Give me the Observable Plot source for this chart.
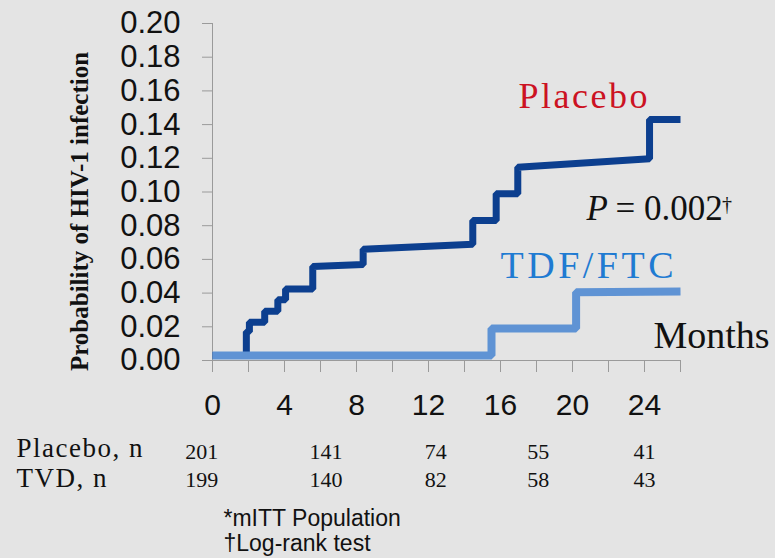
<!DOCTYPE html>
<html>
<head>
<meta charset="utf-8">
<script src="https://cdn.jsdelivr.net/npm/d3@7"></script>
<script src="https://cdn.jsdelivr.net/npm/@observablehq/plot@0.6"></script>
<style>
  html, body { margin: 0; padding: 0; background: #e4e4e4; }
  #chart { width: 775px; height: 558px; }
</style>
</head>
<body>
<div id="chart"></div>
<script>
// ---- Data ----
// Placebo Kaplan–Meier curve vertices (months, cumulative probability)
const placeboMonths = [0, 1.88, 1.88, 2.05, 2.05, 2.9, 2.9, 3.63, 3.63, 4.06, 4.06, 5.57, 5.57, 8.37, 8.37, 14.46, 14.46, 15.76, 15.76, 16.96, 16.96, 24.28, 24.28, 26];
const placeboProb   = [0.003, 0.003, 0.017, 0.017, 0.0227, 0.0227, 0.0293, 0.0293, 0.036, 0.036, 0.0425, 0.0425, 0.0558, 0.057, 0.066, 0.069, 0.0831, 0.0831, 0.0989, 0.0989, 0.1147, 0.1197, 0.143, 0.143];
// TDF/FTC curve vertices
const tdfMonths = [0, 15.5, 15.5, 20.2, 20.2, 26];
const tdfProb   = [0.003, 0.003, 0.019, 0.019, 0.0405, 0.041];

// Axis ticks
const yTicks = [0, 0.02, 0.04, 0.06, 0.08, 0.10, 0.12, 0.14, 0.16, 0.18, 0.20];
const xTicks = [0, 2, 4, 6, 8, 10, 12, 14, 16, 18, 20, 22, 24, 26];
const xTickLabels = [0, 4, 8, 12, 16, 20, 24];

// Number at risk
const atRiskMonths = [-0.6, 6.3, 12.4, 18.1, 24.0];
const placeboAtRisk = [201, 141, 74, 55, 41];
const tvdAtRisk = [199, 140, 82, 58, 43];

const placebo = placeboMonths.map((m, i) => ({month: m, p: placeboProb[i]}));
const tdf = tdfMonths.map((m, i) => ({month: m, p: tdfProb[i]}));

const serif = "'Liberation Serif', 'Times New Roman', serif";
const sans = "'Liberation Sans', Arial, sans-serif";

const chart = Plot.plot({
  width: 775,
  height: 558,
  marginLeft: 212,
  marginRight: 95,
  marginTop: 23,
  marginBottom: 198,
  x: {domain: [0, 26], axis: null, label: null},
  y: {domain: [0, 0.2], axis: null, label: null},
  style: {background: "#e4e4e4", fontFamily: sans, color: "#111", overflow: "visible"},
  marks: [
    Plot.ruleX([0], {stroke: "#9a9a9a"}),
    Plot.ruleY([0], {stroke: "#9a9a9a"}),
    Plot.axisY(yTicks, {tickSize: 10, tickPadding: 22, tickFormat: ".2f", stroke: "#9a9a9a", fill: "#111", fontSize: 31, fontFamily: sans, label: null}),
    Plot.axisX(xTicks, {tickSize: 12, tickPadding: 21, tickFormat: d => xTickLabels.includes(d) ? String(d) : "", stroke: "#9a9a9a", fill: "#111", fontSize: 30, fontFamily: sans, label: null}),
    Plot.line(placebo, {x: "month", y: "p", stroke: "#0c3f8f", strokeWidth: 7, strokeLinejoin: "miter", strokeLinecap: "butt", curve: "linear"}),
    Plot.line(tdf, {x: "month", y: "p", stroke: "#5f93d4", strokeWidth: 8, strokeLinejoin: "miter", strokeLinecap: "butt", curve: "linear"}),
    // Y axis title
    Plot.text(["Probability of HIV-1 infection"], {text: d => d, frameAnchor: "left", rotate: -90, dx: -125, dy: 19.5, textAnchor: "middle", lineAnchor: "bottom", fontWeight: "bold", fontSize: 25, fontFamily: serif, fill: "#111"}),
    // Series labels
    Plot.text(["Placebo"], {text: d => d, x: 17.0, y: 0.1496, textAnchor: "start", lineAnchor: "bottom", fill: "#cc1222", fontSize: 36, fontFamily: serif}),
    Plot.text(["TDF/FTC"], {text: d => d, x: 16.0, y: 0.0487, textAnchor: "start", lineAnchor: "bottom", fill: "#1f7bd2", fontSize: 38, fontFamily: serif}),
    Plot.text(["Months"], {text: d => d, x: 24.5, y: 0.0077, textAnchor: "start", lineAnchor: "bottom", fill: "#111", fontSize: 38, fontFamily: serif}),
    // P value
    Plot.text(["P"], {text: d => d, x: 20.78, y: 0.0831, textAnchor: "start", lineAnchor: "bottom", fill: "#111", fontSize: 35, fontStyle: "italic", fontFamily: serif}),
    Plot.text(["= 0.002"], {text: d => d, x: 22.39, y: 0.0831, textAnchor: "start", lineAnchor: "bottom", fill: "#111", fontSize: 35, fontFamily: serif}),
    Plot.text(["†"], {text: d => d, x: 28.3, y: 0.0885, textAnchor: "start", lineAnchor: "bottom", fill: "#111", fontSize: 20, fontFamily: serif}),
    // Number at risk rows
    Plot.text(["Placebo, n"], {text: d => d, frameAnchor: "bottom-left", dx: -196, dy: 96, textAnchor: "start", lineAnchor: "bottom", fontSize: 27, fontFamily: serif, fill: "#111"}),
    Plot.text(["TVD, n"], {text: d => d, frameAnchor: "bottom-left", dx: -196, dy: 126, textAnchor: "start", lineAnchor: "bottom", fontSize: 27, fontFamily: serif, fill: "#111"}),
    Plot.text(placeboAtRisk, {x: (d, i) => atRiskMonths[i], text: d => String(d), frameAnchor: "bottom", dy: 98, lineAnchor: "bottom", fontSize: 22, fontFamily: serif, fill: "#111"}),
    Plot.text(tvdAtRisk, {x: (d, i) => atRiskMonths[i], text: d => String(d), frameAnchor: "bottom", dy: 126, lineAnchor: "bottom", fontSize: 22, fontFamily: serif, fill: "#111"}),
    // Footnotes
    Plot.text(["*mITT Population"], {text: d => d, frameAnchor: "bottom-left", dx: 11, dy: 165, textAnchor: "start", lineAnchor: "bottom", fontSize: 23, fontFamily: sans, fill: "#111"}),
    Plot.text(["†Log-rank test"], {text: d => d, frameAnchor: "bottom-left", dx: 11, dy: 190, textAnchor: "start", lineAnchor: "bottom", fontSize: 23, fontFamily: sans, fill: "#111"})
  ]
});

// widen a few serif labels to match the reference's wider typeface
const spacing = {"Placebo": "2.5px", "TDF/FTC": "3.5px", "Placebo, n": "1.5px", "TVD, n": "1.5px"};
d3.select(chart).selectAll("text").each(function() {
  const t = this.textContent;
  if (spacing[t]) d3.select(this).style("letter-spacing", spacing[t]);
});

document.getElementById("chart").appendChild(chart);
</script>
</body>
</html>
